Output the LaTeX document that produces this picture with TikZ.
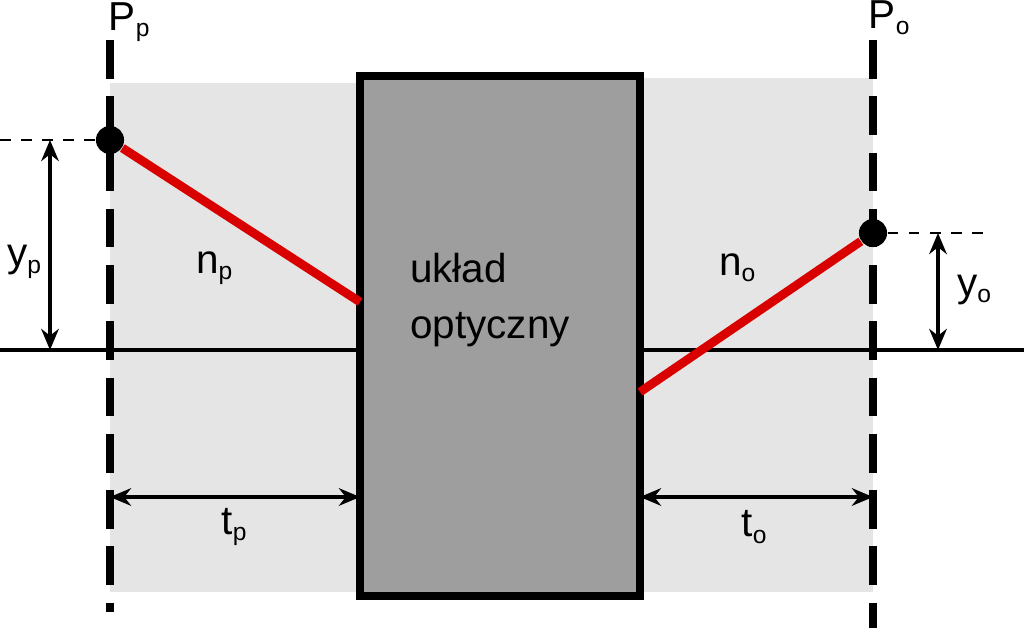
\documentclass[tikz,border=0pt]{standalone}
\usepackage{fontspec}
\setmainfont{Liberation Sans}
\usetikzlibrary{arrows.meta}
\newcommand{\sbs}[1]{\textsubscript{\fontsize{7}{8}\selectfont #1}}
\begin{document}
\begin{tikzpicture}[x=0.01cm,y=-0.01cm,
  lab/.style={font=\fontsize{11.5}{13}\selectfont},
  dim/.style={{Stealth[length=6pt,width=5pt]}-{Stealth[length=6pt,width=5pt]}, line width=1.3pt},
  plane/.style={line width=2.2pt, dash pattern=on 11pt off 5pt},
  ray/.style={red!85!black, line width=2.5pt}]
\useasboundingbox (0,0) rectangle (1024,628);
\fill[black!10] (110,83) rectangle (360,592);
\fill[black!10] (640,78) rectangle (873,592);
\coordinate (al) at (0,350); \coordinate (ar) at (1024,350);
\draw[line width=1.4pt] (al) -- (ar);
\draw[line width=2pt, fill=black!38] (360,76) rectangle (640,596);
\coordinate (bl) at (360,302); \coordinate (br) at (640,392);
\node[lab, align=left, font=\fontsize{11.5}{16}\selectfont] (uk) at (490,300) {układ\\optyczny};
\draw[plane] (110,40) -- (110,612);
\draw[plane] (873,40) -- (873,628);
\node[circle, fill, inner sep=0, minimum size=8pt] (pp) at (110,140) {};
\node[circle, fill, inner sep=0, minimum size=8pt] (po) at (873,233) {};
\draw[ray] (pp) -- (bl);
\draw[ray] (po) -- (br);
\coordinate (dl) at (0,140); \coordinate (dr) at (990,233);
\draw[dashed, line width=0.8pt] (dl) -- (pp);
\draw[dashed, line width=0.8pt] (po) -- (dr);
\draw[dim] (50,140) -- (50,350);
\draw[dim] (938,233) -- (938,350);
\draw[dim] (110,497) -- (360,497);
\draw[dim] (640,497) -- (873,497);
\node[lab] (yp) at (25,262) {y\sbs{p}};
\node[lab] (yo) at (975,290) {y\sbs{o}};
\node[lab] (np) at (215,268) {n\sbs{p}};
\node[lab] (no) at (738,268) {n\sbs{o}};
\node[lab] (tp) at (235,527) {t\sbs{p}};
\node[lab] (to) at (755,527) {t\sbs{o}};
\node[lab] (Pp) at (130,22) {P\sbs{p}};
\node[lab] (Po) at (890,18) {P\sbs{o}};
\end{tikzpicture}
\end{document}
